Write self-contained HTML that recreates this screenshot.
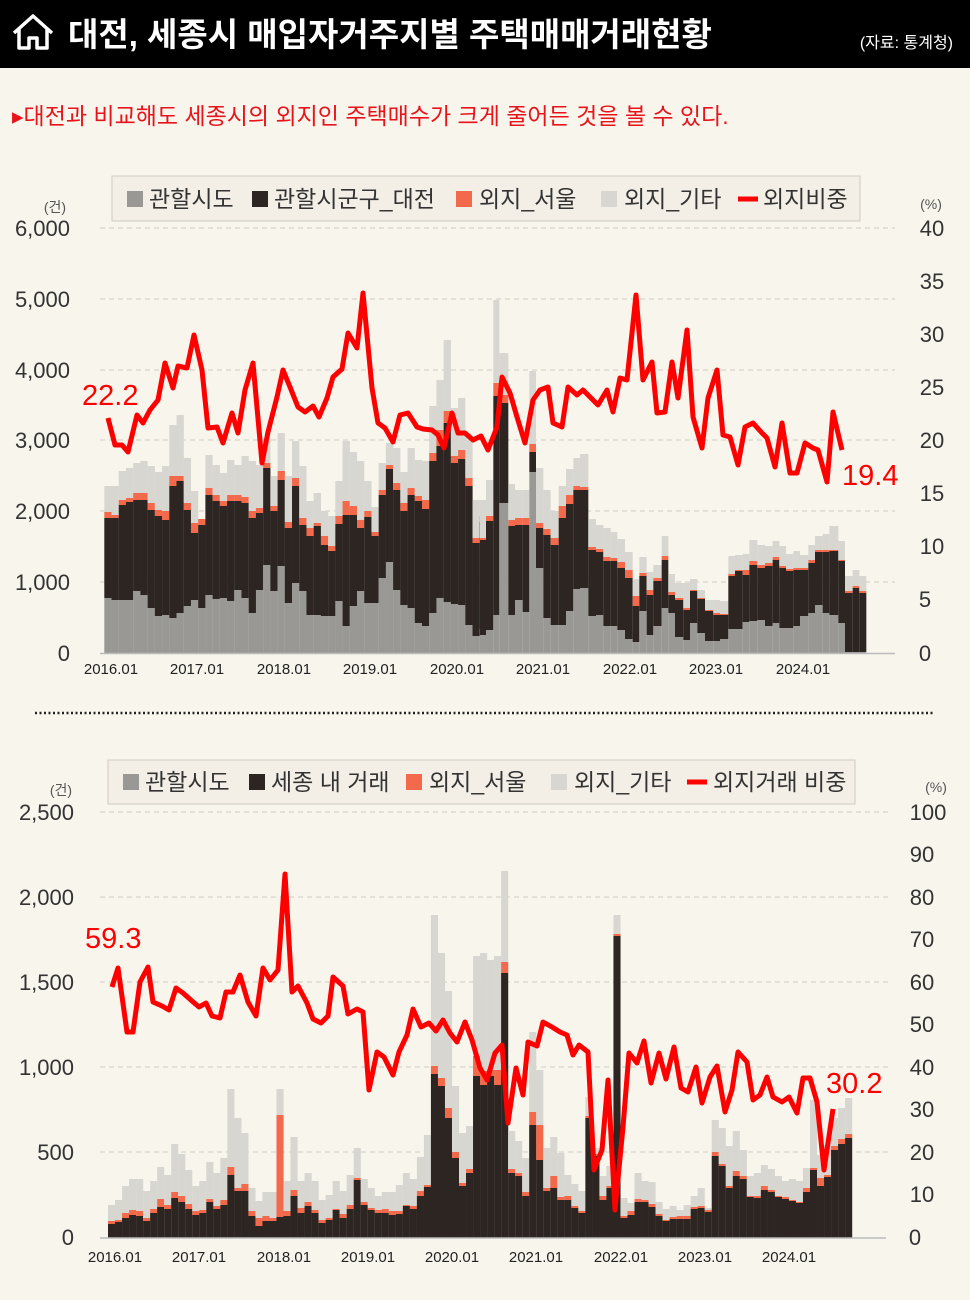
<!DOCTYPE html>
<html><head><meta charset="utf-8">
<style>
html,body{margin:0;padding:0;}
body{width:970px;height:1300px;background:#f8f5ec;position:relative;overflow:hidden;font-family:"Liberation Sans","Noto Sans CJK KR",sans-serif;}
svg{position:absolute;left:0;top:0;}
</style></head>
<body>
<svg id="s" width="970" height="1300" viewBox="0 0 970 1300" xmlns="http://www.w3.org/2000/svg" font-family="Liberation Sans, Noto Sans CJK KR, sans-serif">
<rect x="0" y="0" width="970" height="68" fill="#000"/>
<path d="M14 33 L33 16 L52 33 M19 29 V48 H29 V38 H37 V48 H47 V29" fill="none" stroke="#fff" stroke-width="3.5" stroke-linejoin="round"/>
<text x="68" y="46" fill="#fff" font-size="33" font-weight="bold">대전, 세종시 매입자거주지별 주택매매거래현황</text>
<text x="953" y="48" fill="#fff" font-size="16" text-anchor="end">(자료: 통계청)</text>
<text x="12" y="124" fill="#e8141c" font-size="23">▸대전과 비교해도 세종시의 외지인 주택매수가 크게 줄어든 것을 볼 수 있다.</text>

<g stroke="#cfcbc2" stroke-dasharray="5,4" stroke-width="1">
<line x1="100" y1="228" x2="895" y2="228"/><line x1="100" y1="299" x2="895" y2="299"/><line x1="100" y1="370" x2="895" y2="370"/><line x1="100" y1="440" x2="895" y2="440"/><line x1="100" y1="511" x2="895" y2="511"/><line x1="100" y1="582" x2="895" y2="582"/>
</g>
<g id="bars1"></g>
<line x1="100" y1="653.5" x2="895" y2="653.5" stroke="#bbb" stroke-width="1.5"/>
<g font-size="22" fill="#333" text-anchor="end">
<text x="70" y="236">6,000</text><text x="70" y="307">5,000</text><text x="70" y="378">4,000</text><text x="70" y="448">3,000</text><text x="70" y="519">2,000</text><text x="70" y="590">1,000</text><text x="70" y="661">0</text>
</g>
<g font-size="22" fill="#333" text-anchor="middle">
<text x="932" y="236">40</text><text x="932" y="289">35</text><text x="932" y="342">30</text><text x="932" y="395">25</text><text x="932" y="448">20</text><text x="932" y="501">15</text><text x="932" y="554">10</text><text x="925" y="607">5</text><text x="925" y="661">0</text>
</g>
<text x="55" y="212" font-size="14" fill="#555" text-anchor="middle">(건)</text>
<text x="931" y="209" font-size="14" fill="#555" text-anchor="middle">(%)</text>
<g font-size="15" fill="#222" text-anchor="middle">
<text x="111" y="674">2016.01</text><text x="197" y="674">2017.01</text><text x="284" y="674">2018.01</text><text x="370" y="674">2019.01</text><text x="457" y="674">2020.01</text><text x="543" y="674">2021.01</text><text x="630" y="674">2022.01</text><text x="716" y="674">2023.01</text><text x="803" y="674">2024.01</text>
</g>
<polyline fill="none" stroke="#ff0000" stroke-width="5" stroke-linejoin="round" points="108,418 115,445 122,445 128,452 137,415 143,423 150,410 158,400 165,363 173,388 178,366 187,368 194,335 202,370 208,428 217,427 223,443 232,413 238,433 245,390 253,363 262,463 268,432 277,397 283,370 290,387 298,407 305,412 313,406 319,417 327,398 333,377 342,369 348,333 357,348 363,293 372,388 378,423 385,428 393,442 400,415 408,413 417,427 423,429 432,430 438,435 444,448 452,413 458,433 465,433 473,440 481,436 488,450 497,427 502,377 510,393 517,417 525,443 533,400 540,390 548,387 553,423 562,427 568,387 577,395 583,390 598,405 607,390 613,412 620,378 627,380 636,295 643,380 652,362 657,413 665,412 672,362 678,398 687,330 693,417 702,448 708,398 717,370 723,435 730,437 738,465 745,427 753,423 762,433 767,438 775,467 782,423 790,473 797,473 805,443 813,448 818,450 827,482 833,412 842,450"/>
<text x="82" y="405" font-size="29" fill="#ff0000">22.2</text>
<text x="842" y="485" font-size="29" fill="#ff0000">19.4</text>

<rect x="112" y="176" width="748" height="45" fill="#f3efe6" stroke="#cfcbc2"/>
<g font-size="23" fill="#333">
<rect x="127" y="191" width="16" height="16" fill="#9a9894"/><text x="149" y="207">관할시도</text>
<rect x="252" y="191" width="16" height="16" fill="#2c2522"/><text x="274" y="207">관할시군구_대전</text>
<rect x="456" y="191" width="16" height="16" fill="#f26a4b"/><text x="479" y="207">외지_서울</text>
<rect x="601" y="191" width="16" height="16" fill="#d8d6d0"/><text x="624" y="207">외지_기타</text>
<line x1="738" y1="199" x2="758" y2="199" stroke="#ff0000" stroke-width="5"/><text x="763" y="207">외지비중</text>
</g>

<line x1="35" y1="713" x2="935" y2="713" stroke="#222" stroke-width="2.5" stroke-dasharray="2,2.5"/>

<g stroke="#cfcbc2" stroke-dasharray="5,4" stroke-width="1">
<line x1="100" y1="812" x2="890" y2="812"/><line x1="100" y1="897" x2="890" y2="897"/><line x1="100" y1="982" x2="890" y2="982"/><line x1="100" y1="1067" x2="890" y2="1067"/><line x1="100" y1="1152" x2="890" y2="1152"/>
</g>
<g id="bars2"></g>
<line x1="100" y1="1238" x2="886" y2="1238" stroke="#bbb" stroke-width="1.5"/>
<g font-size="22" fill="#333" text-anchor="end">
<text x="74" y="820">2,500</text><text x="74" y="905">2,000</text><text x="74" y="990">1,500</text><text x="74" y="1075">1,000</text><text x="74" y="1160">500</text><text x="74" y="1245">0</text>
</g>
<g font-size="22" fill="#333" text-anchor="middle">
<text x="928" y="820">100</text><text x="922" y="862">90</text><text x="922" y="905">80</text><text x="922" y="947">70</text><text x="922" y="990">60</text><text x="922" y="1032">50</text><text x="922" y="1075">40</text><text x="922" y="1117">30</text><text x="922" y="1160">20</text><text x="922" y="1202">10</text><text x="915" y="1245">0</text>
</g>
<text x="61" y="795" font-size="14" fill="#555" text-anchor="middle">(건)</text>
<text x="936" y="792" font-size="14" fill="#555" text-anchor="middle">(%)</text>
<g font-size="15" fill="#222" text-anchor="middle">
<text x="115" y="1262">2016.01</text><text x="199" y="1262">2017.01</text><text x="284" y="1262">2018.01</text><text x="368" y="1262">2019.01</text><text x="452" y="1262">2020.01</text><text x="536" y="1262">2021.01</text><text x="621" y="1262">2022.01</text><text x="705" y="1262">2023.01</text><text x="789" y="1262">2024.01</text>
</g>
<polyline fill="none" stroke="#ff0000" stroke-width="5" stroke-linejoin="round" points="112,987 118,968 127,1032 133,1032 140,982 148,967 153,1002 162,1006 169,1010 176,988 183,993 192,1001 199,1007 206,1003 212,1016 220,1018 226,992 233,992 240,975 248,1002 256,1016 263,968 270,980 278,970 285,874 292,992 298,986 307,1003 313,1019 321,1023 328,1016 333,977 343,986 348,1014 357,1009 363,1012 369,1090 377,1052 384,1057 393,1075 399,1052 407,1035 413,1009 421,1027 429,1023 436,1031 443,1020 450,1033 457,1042 465,1022 472,1040 480,1068 487,1080 495,1053 502,1045 508,1123 516,1068 523,1095 528,1042 537,1046 543,1022 552,1027 560,1032 567,1035 573,1055 579,1045 588,1052 594,1170 602,1150 608,1080 615,1210 623,1127 629,1053 637,1063 644,1041 651,1083 659,1053 666,1079 674,1047 681,1088 688,1092 696,1067 702,1103 710,1077 717,1066 725,1112 732,1090 738,1052 747,1062 753,1100 760,1095 767,1077 773,1097 782,1102 789,1097 797,1113 803,1078 810,1078 817,1102 824,1170 833,1109"/>
<text x="85" y="948" font-size="29" fill="#ff0000">59.3</text>
<text x="826" y="1093" font-size="29" fill="#ff0000">30.2</text>

<rect x="108" y="760" width="747" height="44" fill="#f3efe6" stroke="#cfcbc2"/>
<g font-size="23" fill="#333">
<rect x="123" y="774" width="16" height="16" fill="#9a9894"/><text x="145" y="790">관할시도</text>
<rect x="249" y="774" width="16" height="16" fill="#2c2522"/><text x="271" y="790">세종 내 거래</text>
<rect x="406" y="774" width="16" height="16" fill="#f26a4b"/><text x="429" y="790">외지_서울</text>
<rect x="551" y="774" width="16" height="16" fill="#d8d6d0"/><text x="574" y="790">외지_기타</text>
<line x1="687" y1="782" x2="707" y2="782" stroke="#ff0000" stroke-width="5"/><text x="713" y="790">외지거래 비중</text>
</g>
</svg>
<script>
(function(){
var NS="http://www.w3.org/2000/svg";
function r(g,x,y,w,h,c){if(h<=0)return;var e=document.createElementNS(NS,"rect");e.setAttribute("x",x);e.setAttribute("y",y);e.setAttribute("width",w);e.setAttribute("height",h);e.setAttribute("fill",c);g.appendChild(e);}
function bar(g,x,w,base,d){var gr=d[0],k=d[1],o=d[2],l=d[3];
r(g,x,base-l,w,l-o,"#d8d6d0");r(g,x,base-o,w,o-k,"#f26a4b");r(g,x,base-k,w,k-gr,"#2c2522");r(g,x,base-gr,w,gr,"#9a9894");}
var g1=document.getElementById("bars1");
var A=[[55,135,141,167],[53,135,138,167],[53,148,153,182],[53,151,155,185],[62,153,160,190],[58,153,160,192],[45,143,150,187],[37,137,143,181],[38,133,142,187],[35,167,177,228],[40,172,177,238],[47,143,150,195],[53,120,130,162],[45,128,134,134],[58,158,165,198],[54,152,158,188],[55,147,152,180],[52,152,158,193],[63,152,158,188],[55,150,156,197],[40,135,142,192],[63,140,145,188],[88,185,190,212],[62,142,147,177],[87,173,182,220],[50,125,131,177],[70,167,175,212],[62,128,135,187],[38,117,125,152],[38,127,130,160],[37,108,117,142],[37,102,107,137],[52,129,137,172],[27,138,152,212],[47,138,147,201],[62,125,133,192],[50,136,142,172],[50,117,121,146],[75,158,163,190],[91,184,188,210],[63,163,170,205],[48,142,150,181],[45,158,165,205],[30,152,157,193],[27,144,153,192],[40,192,200,247],[55,207,223,273],[51,230,242,313],[49,190,197,245],[48,194,203,255],[28,167,175,217],[17,110,115,153],[24,131,137,153]];
for(var i=0;i<A.length;i++)bar(g1,104.3+7.22*i,7.3,653,A[i]);
var B=[[0,18,113,115,152],[18,23,132,137,173],[40,38,257,270,353],[58,150,250,258,300],[85,38,127,133,169],[105,53,128,135,163],[128,41,128,135,163],[148,181,201,209,282],[168,85,125,130,185],[190,35,118,124,163],[212,28,108,115,142],[236,28,135,147,167],[258,42,149,158,184],[280,64,163,167,195],[300,65,163,166,199],[325,37,103,106,134],[348,38,101,104,128],[370,27,92,96,125],[392,27,92,95,121],[412,23,85,91,114],[435,14,75,83,101],[458,11,47,57,74],[478,42,77,80,96],[500,18,58,63,81],[520,27,72,75,88],[545,45,93,97,117],[565,40,58,61,79],[585,16,53,55,70],[610,13,43,45,70],[630,30,62,63,74],[652,20,54,55,63],[675,12,42,43,53],[700,12,38,40,53],[720,14,38,39,52],[745,24,77,79,97],[765,24,82,83,98],[788,31,78,83,99],[808,32,88,92,113],[832,33,85,88,108],[855,27,87,90,107],[878,30,93,96,112],[898,25,85,87,107],[918,25,82,84,99],[940,27,83,85,102],[960,37,83,85,98],[985,40,90,93,108],[1005,48,101,103,117],[1028,40,101,103,119],[1048,38,102,103,127],[1075,30,92,93,112],[1095,1,60,62,77],[1118,1,65,67,83],[1138,1,60,62,77]];
for(var j=0;j<B.length;j++){var b=B[j];var nx=(j+1<B.length)?B[j+1][0]:b[0]+21;var w=Math.max(6,(nx-b[0])/3);if(j==B.length-1)w=7;bar(g1,480+b[0]/3,w,653,b.slice(1));}
var g2=document.getElementById("bars2");
var C=[[14,17,33],[16,18,38],[20,25,52],[23,28,59],[22,27,59],[17,20,47],[25,29,57],[31,39,71],[29,33,63],[40,46,94],[36,42,84],[29,34,68],[23,27,52],[25,28,57],[36,39,76],[29,32,65],[33,38,80],[63,71,149],[47,50,120],[47,54,105],[22,27,50],[12,20,37],[17,22,46],[17,20,46],[21,123,149],[22,27,57],[42,48,101],[25,30,57],[32,36,65],[25,28,57],[15,18,38],[18,20,43],[28,29,57],[20,24,47],[29,33,63],[58,60,90],[33,36,59],[28,30,50],[25,28,42],[25,29,46],[23,27,46],[24,27,53],[32,33,65],[29,32,59],[42,47,81],[51,53,103],[164,172,323],[152,160,285],[120,130,247],[80,86,152],[52,55,105],[65,69,112],[162,182,282],[153,167,285],[162,168,278],[153,168,282],[265,276,367],[65,69,107],[62,65,97],[42,46,80],[113,126,206],[78,113,168],[47,50,90],[50,62,101],[38,41,85],[38,42,63],[30,32,54],[25,27,47],[120,122,141],[82,84,90],[38,42,62],[50,52,72],[302,304,323],[20,22,40],[23,27,35],[36,39,65],[36,38,57],[31,34,56],[22,24,36],[17,18,29],[19,21,32],[19,22,28],[19,22,33],[29,31,42],[30,32,50],[26,28,30],[82,86,118],[72,74,110],[50,52,92],[62,67,107],[59,62,88],[41,42,62],[40,42,65],[48,52,73],[46,48,69],[41,42,62],[39,41,57],[37,38,59],[35,36,57],[46,50,70],[68,70,138],[52,60,83],[61,63,93],[88,92,120],[94,99,130],[100,104,140]];
for(var m=0;m<C.length;m++){var c=C[m];bar(g2,108+7.02*m,7.1,1238,[0,c[0],c[1],c[2]]);}
})();
</script>
</body></html>
